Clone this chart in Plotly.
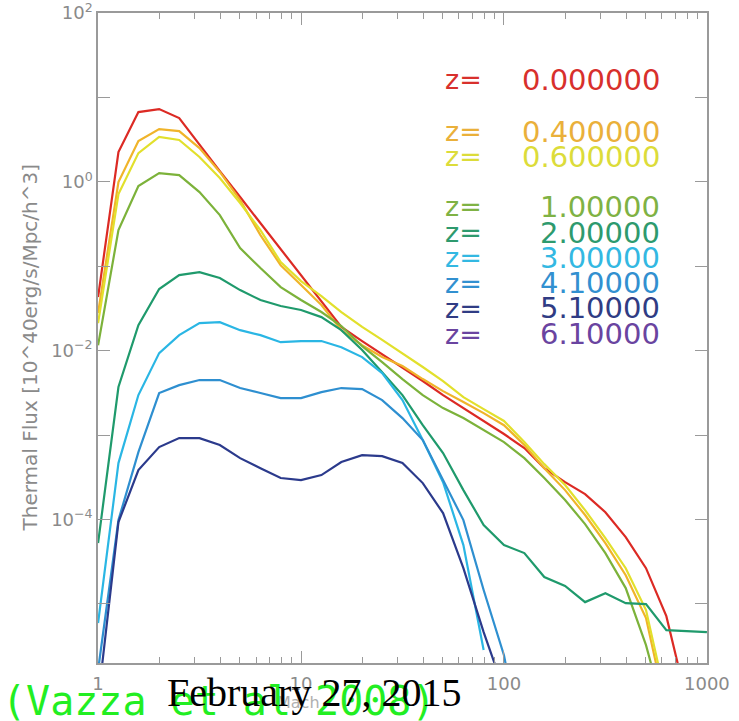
import plotly.graph_objects as go

# Mach number bins (log-spaced, 0.1 dex)
mach = [1.00, 1.26, 1.58, 2.00, 2.51, 3.16, 3.98, 5.01, 6.31, 7.94,
        10.0, 12.6, 15.8, 20.0, 25.1, 31.6, 39.8, 50.1, 63.1, 79.4,
        100, 126, 158, 200, 251, 316, 398, 501, 631, 794, 1000]

flux_z0_0 = [4.32e-2, 2.25, 6.71, 7.29, 5.70, 2.73, 1.34, 0.661, 0.325, 0.160,
             0.0787, 0.0387, 0.0191, 0.0130, 0.00912, 0.00622, 0.00437, 0.00298, 0.00209, 0.00147,
             0.00103, 7.02e-4, 4.06e-4, 2.77e-4, 2.00e-4, 1.22e-4, 6.18e-5, 2.65e-5, 7.16e-6, 7.2e-7]
flux_z0_4 = [2.79e-2, 0.995, 3.04, 4.22, 4.00, 2.51, 1.31, 0.608, 0.234, 0.103,
             0.0599, 0.0347, 0.0175, 0.0116, 0.00840, 0.00657, 0.00461, 0.00332, 0.00246, 0.00182,
             0.00131, 7.62e-4, 4.06e-4, 2.23e-4, 1.13e-4, 5.25e-5, 2.19e-5, 6.79e-6, 5.5e-7]
flux_z0_6 = [2.12e-2, 0.717, 2.19, 3.40, 3.13, 1.97, 1.11, 0.561, 0.268, 0.112,
             0.0668, 0.0444, 0.0287, 0.0191, 0.0134, 0.00937, 0.00640, 0.00437, 0.00282, 0.00203,
             0.00147, 8.26e-4, 4.53e-4, 2.56e-4, 1.29e-4, 6.03e-5, 2.65e-5, 8.45e-6, 7.2e-7]
flux_z1_0 = [0.0116, 0.268, 0.892, 1.27, 1.20, 0.757, 0.404, 0.164, 0.0952, 0.0567,
             0.0398, 0.0287, 0.0196, 0.0113, 0.00733, 0.00461, 0.00298, 0.00209, 0.00159, 0.00115,
             8.26e-4, 5.33e-4, 3.10e-4, 1.70e-4, 8.83e-5, 4.00e-5, 1.54e-5, 3.25e-6, 4.2e-7]
flux_z2_0 = [5.25e-5, 0.00371, 0.0201, 0.0537, 0.0787, 0.0853, 0.0725, 0.0522, 0.0398, 0.0338,
             0.0303, 0.0250, 0.0175, 0.0102, 0.00557, 0.00298, 0.00131, 6.12e-4, 2.23e-4, 8.59e-5,
             4.98e-5, 4.00e-5, 2.08e-5, 1.63e-5, 1.05e-5, 1.34e-5, 1.02e-5, 9.95e-6, 4.90e-6, 4.76e-6,
             4.63e-6]
flux_z3_0 = [5.93e-6, 4.66e-4, 0.00298, 0.00937, 0.0153, 0.0212, 0.0218, 0.0175, 0.0153, 0.0126,
             0.0130, 0.0130, 0.0110, 0.00840, 0.00543, 0.00260, 8.73e-4, 2.77e-4, 4.98e-5, 2.84e-6]
flux_z4_1 = [1.64e-6, 9.84e-5, 6.29e-4, 0.00315, 0.00391, 0.00449, 0.00449, 0.00361, 0.00315, 0.00274,
             0.00274, 0.00323, 0.00361, 0.00351, 0.00260, 0.00159, 8.73e-4, 2.93e-4, 9.84e-5, 1.46e-5,
             2.47e-6, 1.4e-7]
flux_z5_1 = [7.2e-7, 9.31e-5, 3.85e-4, 7.21e-4, 9.21e-4, 9.21e-4, 7.62e-4, 5.33e-4, 4.06e-4, 3.10e-4,
             2.93e-4, 3.36e-4, 4.79e-4, 5.79e-4, 5.64e-4, 4.66e-4, 2.70e-4, 1.19e-4, 2.65e-5, 4.63e-6,
             9.5e-7]

series = [
    ("0.000000", flux_z0_0, "#dc2a24"),
    ("0.400000", flux_z0_4, "#f0b42a"),
    ("0.600000", flux_z0_6, "#e2e02c"),
    ("1.00000", flux_z1_0, "#7cb23a"),
    ("2.00000", flux_z2_0, "#1f9a6c"),
    ("3.00000", flux_z3_0, "#2ab6e4"),
    ("4.10000", flux_z4_1, "#2e8fd0"),
    ("5.10000", flux_z5_1, "#2b3a8c"),
]
legend_labels = ["0.000000", "0.400000", "0.600000", "1.00000", "2.00000",
                 "3.00000", "4.10000", "5.10000", "6.10000"]
legend_colors = ["#d8302c", "#eab03a", "#dcdc3a", "#7fb244", "#2e9a6e",
                 "#33b8e2", "#3290d0", "#303c84", "#6a44a0"]
legend_y = [0.897, 0.8174, 0.7789, 0.702, 0.662, 0.6235, 0.5842, 0.5457, 0.5057]

fig = go.Figure()
for name, vals, col in series:
    fig.add_trace(go.Scatter(x=mach[:len(vals)], y=vals, mode="lines",
                             line=dict(color=col, width=2.2), name="z=" + name,
                             showlegend=False))

gray = "#9a9a9a"
tickfont = dict(family="DejaVu Sans", size=18, color="#8a8a8a")

fig.update_xaxes(type="log", range=[-0.0004, 3.0004], showgrid=False, zeroline=False, automargin=False,
                 showline=True, linecolor=gray, linewidth=1.5, mirror="ticks",
                 ticks="inside", ticklen=12, tickcolor=gray, tickwidth=1.2,
                 tickvals=[1, 10, 100, 1000], ticktext=["1", "10", "100", "1000"],
                 tickfont=tickfont, ticklabelstandoff=4, ticklabeloverflow="allow",
                 minor=dict(ticks="inside", ticklen=6, tickcolor=gray, tickwidth=1.2,
                            tickvals=[2, 3, 4, 5, 6, 7, 8, 9, 20, 30, 40, 50, 60, 70, 80, 90,
                                      200, 300, 400, 500, 600, 700, 800, 900]))
fig.update_yaxes(type="log", range=[-5.7, 2.0005], showgrid=False, zeroline=False, automargin=False,
                 showline=True, linecolor=gray, linewidth=1.5, mirror="ticks",
                 ticks="inside", ticklen=12, tickcolor=gray, tickwidth=1.2,
                 tickvals=[1e-5, 1e-4, 1e-3, 1e-2, 1e-1, 1, 10, 100],
                 ticktext=["", "10<sup>−4</sup>", "", "10<sup>−2</sup>", "",
                           "10<sup>0</sup>", "", "10<sup>2</sup>"],
                 tickfont=tickfont, ticklabeloverflow="allow")

ann = []
for lab, col, yy in zip(legend_labels, legend_colors, legend_y):
    ann.append(dict(xref="paper", yref="paper", x=0.5665, y=yy, text="z=",
                    showarrow=False, xanchor="left", yanchor="middle",
                    font=dict(family="DejaVu Sans", size=27, color=col)))
    ann.append(dict(xref="paper", yref="paper", x=0.926, y=yy, text=lab,
                    showarrow=False, xanchor="right", yanchor="middle",
                    font=dict(family="DejaVu Sans", size=29, color=col)))

# axis titles
ann.append(dict(xref="paper", yref="paper", x=-0.111, y=0.486, text="Thermal Flux [10^40erg/s/Mpc/h^3]",
                textangle=-90, showarrow=False, xanchor="center", yanchor="middle",
                font=dict(family="DejaVu Sans", size=20, color="#8a8a8a")))
ann.append(dict(xref="paper", yref="paper", x=0.33, y=-0.06, text="Mach",
                showarrow=False, xanchor="center", yanchor="middle",
                font=dict(family="DejaVu Sans", size=16, color="#b0b0b0")))
# overlay texts
ann.append(dict(xref="paper", yref="paper", x=-0.161, y=-0.058, text="(Vazza et al 2008)",
                showarrow=False, xanchor="left", yanchor="middle",
                font=dict(family="DejaVu Sans Mono", size=40, color="#22ee22")))
ann.append(dict(xref="paper", yref="paper", x=0.11, y=-0.045, text="February 27, 2015",
                showarrow=False, xanchor="left", yanchor="middle",
                font=dict(family="Liberation Serif", size=40, color="#000000")))

fig.update_layout(width=739, height=721, margin=dict(l=98, r=32, t=13, b=58),
                  plot_bgcolor="white", paper_bgcolor="white", annotations=ann,
                  showlegend=False)

fig.write_html("out.html")
